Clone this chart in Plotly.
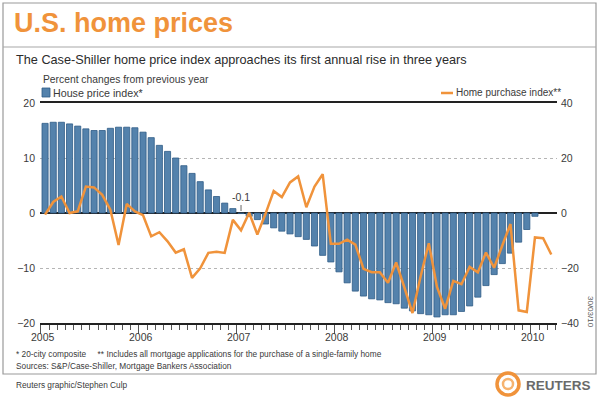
import plotly.graph_objects as go

# ---------------- data ----------------
years = ["2005", "2006", "2007", "2008", "2009", "2010"]
# S&P/Case-Shiller 20-city composite, % change y/y, Jan 2005 - Jan 2010
house_price_index = [
    16.3, 16.5, 16.5, 16.2, 15.8, 15.3, 15.0, 15.0, 15.4, 15.6, 15.6, 15.5,
    14.7, 13.7, 12.3, 11.2, 10.0, 8.6, 7.2, 5.7, 4.2, 3.0, 1.8, 0.8,
    -0.1, -0.6, -1.2, -2.0, -2.7, -3.3, -3.8, -4.3, -4.8, -6.0, -7.7, -8.9,
    -10.7, -12.7, -14.2, -15.1, -15.6, -15.8, -16.3, -16.5, -17.3, -17.8, -18.3, -18.5,
    -18.9, -18.5, -18.5, -17.9, -16.9, -15.3, -13.2, -11.2, -9.2, -7.3, -5.3, -3.0,
    -0.6,
]
# MBA home purchase index, % change y/y, Jan 2005 - Mar 2010
home_purchase_index = [
    -0.6, 4.0, 6.0, 0.0, 0.6, 9.6, 9.3, 6.6, 1.2, -11.6, 3.3, 0.6,
    -0.8, -8.5, -7.0, -10.3, -14.4, -13.2, -23.6, -20.1, -14.5, -14.1, -14.5, -2.5,
    -6.3, 0.1, -7.8, -0.3, 8.0, 5.8, 11.1, 13.3, 2.1, 9.6, 14.1, -11.2,
    -11.2, -9.7, -11.5, -20.3, -21.5, -21.5, -25.4, -18.0, -27.0, -36.4, -23.0, -11.0,
    -26.9, -34.8, -24.7, -25.9, -19.6, -21.6, -14.4, -19.9, -11.8, -4.0, -35.4, -36.0,
    -8.9, -9.2, -15.1,
]
left_ticks = [-20, -10, 0, 10, 20]
right_ticks = [-40, -20, 0, 20, 40]

# ---------------- geometry helpers (pixel -> paper) ----------------
W, H = 600, 399
L, R, T, B = 40, 557, 103, 323


def px(x):
    return (x - L) / (R - L)


def py(y):
    return (B - y) / (B - T)


bar_x = list(range(len(house_price_index)))
line_x = list(range(len(home_purchase_index)))
year_pos = [12 * i - 0.5 for i in range(len(years))]

ORANGE = "#F0933B"
BLUE = "#5482AC"
TXT = "#3a3a3a"
FONT = "Liberation Sans, Arial, sans-serif"

fig = go.Figure()
fig.add_trace(go.Bar(
    x=bar_x, y=house_price_index, yaxis="y",
    marker=dict(color=BLUE, line=dict(color="#2E5C86", width=0.8)),
    showlegend=False, hoverinfo="skip",
))
fig.add_trace(go.Scatter(
    x=line_x, y=home_purchase_index, yaxis="y2", mode="lines",
    line=dict(color=ORANGE, width=2.5), showlegend=False, hoverinfo="skip",
))

fig.update_layout(
    width=W, height=H,
    margin=dict(l=L, r=W - R, t=T, b=H - B, pad=0, autoexpand=False),
    paper_bgcolor="white", plot_bgcolor="white",
    bargap=0.25,
    font=dict(family=FONT, color=TXT, size=10),
    xaxis=dict(
        range=[-0.62, 62.7], tickvals=year_pos, showticklabels=False,
        showgrid=False, zeroline=False,
        showline=True, linecolor="#222", linewidth=1.6, mirror=True,
        ticks="outside", ticklen=9, tickcolor="#555", tickwidth=1,
        minor=dict(dtick=1, tick0=-0.5, ticks="outside", ticklen=5, tickcolor="#555", tickwidth=1),
    ),
    yaxis=dict(
        range=[-20, 20], tickvals=left_ticks,
        showgrid=True, gridcolor="#b5b5b5", griddash="dot", gridwidth=1,
        zeroline=True, zerolinecolor="#222", zerolinewidth=1.6,
        showline=False, ticks="", ticklabelstandoff=4,
        tickfont=dict(size=10.5, color=TXT, family=FONT),
    ),
    yaxis2=dict(
        range=[-40, 40], tickvals=right_ticks, overlaying="y", side="right",
        showgrid=False, zeroline=False, showline=False, ticks="", ticklabelstandoff=3,
        tickfont=dict(size=10.5, color=TXT, family=FONT),
    ),
)

shapes = []
annots = []

# outer frame and title separator
shapes.append(dict(type="rect", xref="paper", yref="paper",
                   x0=px(3), x1=px(596), y0=py(3), y1=py(374),
                   line=dict(color="#9a9a9a", width=1.2), fillcolor="rgba(0,0,0,0)", layer="below"))
shapes.append(dict(type="line", xref="paper", yref="paper",
                   x0=px(3), x1=px(596), y0=py(47), y1=py(47),
                   line=dict(color="#a8a8a8", width=1.2)))

# legend markers
shapes.append(dict(type="rect", xref="paper", yref="paper",
                   x0=px(42), x1=px(50), y0=py(97), y1=py(88),
                   line=dict(color="#2E5C86", width=0.8), fillcolor=BLUE))
shapes.append(dict(type="line", xref="paper", yref="paper",
                   x0=px(441), x1=px(453), y0=py(93), y1=py(93),
                   line=dict(color=ORANGE, width=2.5)))

# -0.1 annotation tick
shapes.append(dict(type="line", xref="x", yref="paper",
                   x0=24, x1=24, y0=py(205), y1=py(211),
                   line=dict(color="#666", width=1)))

# Reuters logo mark
shapes.append(dict(type="circle", xref="paper", yref="paper",
                   x0=px(497), x1=px(519), y0=py(373), y1=py(395),
                   line=dict(color=ORANGE, width=3.5), fillcolor="rgba(0,0,0,0)"))
shapes.append(dict(type="circle", xref="paper", yref="paper",
                   x0=px(503), x1=px(513), y0=py(379), y1=py(389),
                   line=dict(color="#F6B36F", width=2.5), fillcolor="rgba(0,0,0,0)"))


def text(x, y, s, size, color=TXT, xanchor="left", yanchor="middle", **kw):
    annots.append(dict(xref="paper", yref="paper", x=px(x), y=py(y), text=s,
                       showarrow=False, xanchor=xanchor, yanchor=yanchor,
                       font=dict(size=size, color=color, family=kw.pop("family", FONT)), **kw))


# year labels under the axis
for pos, yr in zip(year_pos, years):
    annots.append(dict(xref="x", yref="paper", x=pos + 0.3, y=py(337), text=yr,
                       showarrow=False, xanchor="center", yanchor="middle",
                       font=dict(size=10.5, color=TXT, family=FONT)))

text(12, 23, "<b>U.S. home prices</b>", 27, color=ORANGE)
text(14, 60, "The Case-Shiller home price index approaches its first annual rise in three years", 12.7, color="#2b2b2b")
text(41, 79, "Percent changes from previous year", 10.3)
text(51, 92.5, "House price index*", 10.7)
text(454, 92.5, "Home purchase index**", 10)
text(241, 197, "-0.1", 10.5, xanchor="center")
text(14, 354, "* 20-city composite\u00a0\u00a0\u00a0\u00a0\u00a0** Includes all mortgage applications for the purchase of a single-family home", 8.3)
text(14, 366, "Sources: S&amp;P/Case-Shiller, Mortgage Bankers Association", 8.3)
text(14, 385, "Reuters graphic/Stephen Culp", 8.3)
text(524, 385, "<b>REUTERS</b>", 13.5, color="#6a6a6a")
annots.append(dict(xref="paper", yref="paper", x=px(591), y=py(312), text="30/03/10",
                   showarrow=False, textangle=90, xanchor="center", yanchor="middle",
                   font=dict(size=8, color="#555", family=FONT)))

fig.update_layout(shapes=shapes, annotations=annots)
fig.write_html("out.html", config={"displayModeBar": False},
               post_script="document.body.style.margin='0';")
